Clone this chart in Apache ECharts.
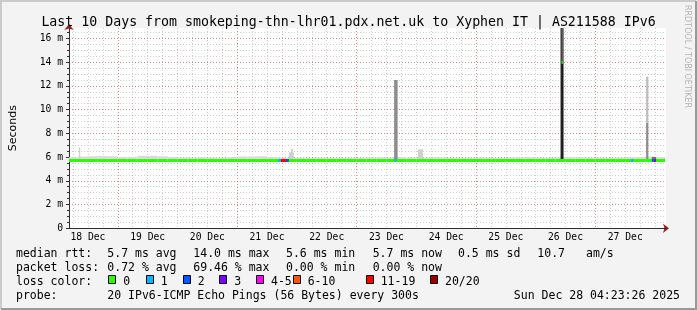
<!DOCTYPE html>
<html><head><meta charset="utf-8">
<script src="https://cdn.jsdelivr.net/npm/echarts@6/dist/echarts.min.js"></script>
<style>html,body{margin:0;padding:0;background:#f3f3f3}#c{width:697px;height:310px}</style>
</head><body><div id="c"></div>
<script>
// ---------- data (time in hours since 18 Dec 00:00) ----------
const titleText = 'Last 10 Days from smokeping-thn-lhr01.pdx.net.uk to Xyphen IT | AS211588 IPv6';
const xMin = 4.39, xMax = 244.39;
const dayLabels = ['18 Dec','19 Dec','20 Dec','21 Dec','22 Dec','23 Dec','24 Dec','25 Dec','26 Dec','27 Dec'];
const dayLabelHours = [12,36,60,84,108,132,156,180,204,228];
const minorGridHours = [6,12,18,24,30,36,42,48,54,60,66,72,78,84,90,96,102,108,114,120,126,132,138,144,150,156,162,168,174,180,186,192,198,204,210,216,222,228,234,240];
const majorGridHours = [24,72,120,168,216];
const yMax = 16.87;
const yTickValues = [0,2,4,6,8,10,12,14,16];
const yTickLabels = ['0','2 m','4 m','6 m','8 m','10 m','12 m','14 m','16 m'];
const yMinorValues = [0.5,1,1.5,2,2.5,3,3.5,4,4.5,5,5.5,6,6.5,7,7.5,8,8.5,9,9.5,10,10.5,11,11.5,12,12.5,13,13.5,14,14.5,15,15.5,16,16.5];

// median rtt (ms) per 4-hour sample starting at hour 4
const sampleStart = 4, sampleStep = 4;
const median = [5.71,5.74,5.74,5.74,5.74,5.70,5.74,5.74,5.74,5.71,
                5.69,5.69,5.69,5.69,5.69,5.69,5.69,5.69,5.69,5.69,
                5.69,5.69,5.69,5.69,5.69,5.69,5.69,5.69,5.69,5.69,
                5.69,5.69,5.69,5.69,5.69,5.69,5.69,5.69,5.69,5.69,
                5.69,5.69,5.69,5.69,5.69,5.69,5.69,5.69,5.69,5.69,
                5.69,5.69,5.69,5.69,5.69,5.69,5.69,5.69,5.69,5.69];
// upper edge of the smoke (ms) per sample
const smokeTop = [5.98,6.04,6.06,6.08,6.06,6.01,6.02,6.10,6.10,6.06,
                  6.01,5.96,5.96,5.98,5.96,5.94,6.01,6.04,6.04,6.06,
                  6.01,5.96,5.94,5.96,5.94,5.96,5.92,5.94,5.96,5.94,
                  5.96,5.98,5.96,6.01,5.96,5.94,5.96,5.98,5.94,5.92,
                  5.94,5.96,5.94,5.92,5.96,5.98,6.01,5.96,5.94,5.98,
                  6.01,5.98,5.96,5.96,5.94,5.96,5.98,6.01,6.04,6.01];
const smokeBottom = 5.60;
// narrow smoke features: [startHour, endHour, lowMs, highMs, densityLevel]
const smokeBars = [
  [8.4, 8.9, 5.7, 6.8, 1],
  [92.8, 94.8, 5.7, 6.4, 1],
  [93.6, 94.4, 5.7, 6.7, 1],
  [135.1, 136.5, 5.7, 12.5, 3],
  [144.7, 146.7, 5.7, 6.65, 1],
  [202.0, 203.2, 5.7, 16.87, 5],
  [202.4, 202.9, 14.0, 16.87, 4],
  [236.4, 237.3, 5.7, 8.9, 3],
  [236.4, 237.3, 8.9, 12.77, 2],
  [238.7, 240.4, 5.7, 6.0, 4]
];
// median excursions: [startHour, endHour, ms]
const medianSpikes = [[202.4, 202.9, 14.0]];
// packet loss (out of 20) where non-zero: [startHour, endHour, lost]
const lossSegments = [
  [88.4, 89.6, 1],
  [89.6, 91.6, 12],
  [91.6, 92.8, 2],
  [135.2, 136.0, 1],
  [230.4, 231.2, 1],
  [238.7, 239.4, 2],
  [239.4, 240.4, 3]
];
const lossBucketLabels = ['0','1','2','3','4-5','6-10','11-19','20/20'];
const lossColors = ['#26ff00','#00b8ff','#0059ff','#7e00ff','#ff00ff','#ff5500','#ff0000','#a00000'];
const medianStats = ['5.7 ms avg','14.0 ms max','5.6 ms min','5.7 ms now','0.5 ms sd','10.7','am/s'];
const lossStats = ['0.72 % avg','69.46 % max','0.00 % min','0.00 % now'];
const probeText = '20 IPv6-ICMP Echo Pings (56 Bytes) every 300s';
const stampText = 'Sun Dec 28 04:23:26 2025';

// ---------- styles ----------
const mono = "'DejaVu Sans Mono', monospace";
const greys = ['#dadada','#d0d0d0','#bdbdbd','#8c8c8c','#707070','#1e1e1e'];
const minorColor = 'rgba(140,140,140,0.42)';
const majorColor = 'rgba(222,48,48,0.42)';
const arrowColor = '#9b1b1b';
const axisColor = '#303030';
function bucket(n){ if(n<=0) return 0; if(n<=3) return n; if(n<=5) return 4; if(n<=10) return 5; if(n<=19) return 6; return 7; }

// ---------- series data built from arrays ----------
const smokeData = [];
for (let i=0;i<smokeTop.length;i++){
  const t = sampleStart + i*sampleStep;
  smokeData.push([t, t+sampleStep, smokeBottom, smokeTop[i], 0]);
}
smokeBars.forEach(b=>smokeData.push(b));
const medData = [];
for (let i=0;i<median.length;i++){
  const t = sampleStart + i*sampleStep;
  medData.push([t, t+sampleStep, median[i], 0]);
}
function medianAt(h){ const i=Math.min(median.length-1, Math.max(0, Math.floor((h-sampleStart)/sampleStep))); return median[i]; }
lossSegments.forEach(s=>medData.push([s[0], s[1], medianAt(s[0]), bucket(s[2])]));
medianSpikes.forEach(s=>medData.push([s[0], s[1], s[2], 0]));

function clipTo(params, r){
  const cs = params.coordSys;
  return echarts.graphic.clipRectByRect(r, {x:cs.x, y:cs.y, width:cs.width, height:cs.height});
}

const chart = echarts.init(document.getElementById('c'), null, {renderer:'canvas', width:697, height:310});
const graphics = [];
// border
graphics.push({type:'polyline', shape:{points:[[1,309],[1,1],[696,1]]}, style:{stroke:'#cbcbcb', lineWidth:2, fill:null}, silent:true});
graphics.push({type:'polyline', shape:{points:[[1,309],[696,309],[696,1]]}, style:{stroke:'#999999', lineWidth:2, fill:null}, silent:true});
// watermark
graphics.push({type:'text', x:687, y:5, rotation:-Math.PI/2, style:{text:'RRDTOOL / TOBI OETIKER', fill:'#b4b4b4', font:"8px 'DejaVu Sans', sans-serif", align:'left', verticalAlign:'middle'}});
function txt(x,y,s,align){ graphics.push({type:'text', x:x, y:y, style:{text:s, fill:'#000', font:"11.5px 'DejaVu Sans Mono', monospace", align:align||'left', verticalAlign:'middle'}}); }
const r1=254.5, r2=268.5, r3=281.7, r4=296;
txt(16,r1,'median rtt:');
[107.3,193.3,286,372.7,458,537.3,586].forEach((x,i)=>txt(x,r1,medianStats[i]));
txt(16,r2,'packet loss:');
[107.3,193.3,286,372.7].forEach((x,i)=>txt(x,r2,lossStats[i]));
txt(16,r3,'loss color:');
[108.3,145.7,182.7,219.3,256,292.7,365.7,430].forEach((x,i)=>{
  graphics.push({type:'rect', shape:{x:Math.round(x)+0.5, y:275.5, width:7, height:8}, style:{fill:lossColors[i], stroke:'#000', lineWidth:1}});
  txt(x+15, r3, lossBucketLabels[i]);
});
txt(16,r4,'probe:');
txt(107.3,r4,probeText);
txt(680,r4,stampText,'right');

const option = {
  backgroundColor:'#f3f3f3',
  animation:false,
  title:{text:titleText, left:'center', top:11, textStyle:{fontFamily:mono, fontSize:13.25, fontWeight:'normal', color:'#000'}},
  grid:{left:66, top:28, width:600, height:200.3, show:true, backgroundColor:'#ffffff', borderWidth:0},
  xAxis:[
    {type:'value', position:'bottom', min:xMin, max:xMax, z:3,
     axisLine:{show:true, lineStyle:{color:axisColor, width:1}},
     axisTick:{show:false, customValues:dayLabelHours},
     axisLabel:{customValues:dayLabelHours, formatter:v=>{const i=dayLabelHours.indexOf(v); return i>=0?dayLabels[i]:'';}, fontFamily:mono, fontSize:9.7, color:'#000', margin:4},
     splitLine:{show:false}},
    {type:'value', position:'bottom', min:xMin, max:xMax, z:0,
     axisLine:{show:false}, axisLabel:{show:false},
     axisTick:{show:false, customValues:minorGridHours},
     splitLine:{show:true, lineStyle:{color:minorColor, type:[1,2], width:1}}},
    {type:'value', position:'bottom', min:xMin, max:xMax, z:1,
     axisLine:{show:true, symbol:['none','arrow'], symbolSize:[7,6], symbolOffset:[0,3], lineStyle:{color:arrowColor, width:1}},
     axisLabel:{show:false},
     axisTick:{show:false, customValues:majorGridHours},
     splitLine:{show:true, lineStyle:{color:majorColor, type:[1,2], width:1}}}
  ],
  yAxis:[
    {type:'value', position:'left', min:0, max:yMax, z:3,
     name:'Seconds', nameLocation:'middle', nameGap:50, nameRotate:90,
     nameTextStyle:{fontFamily:"'DejaVu Sans', sans-serif", fontSize:11, color:'#000'},
     axisLine:{show:true, lineStyle:{color:axisColor, width:1}},
     axisTick:{show:true, length:3, customValues:yTickValues, lineStyle:{color:axisColor}},
     axisLabel:{customValues:yTickValues, fontFamily:mono, fontSize:9.7, color:'#000', margin:6,
       formatter:v=>{const i=yTickValues.indexOf(v); return i>=0?yTickLabels[i]:'';}},
     splitLine:{show:true, lineStyle:{color:majorColor, type:[1,2], width:1}}},
    {type:'value', position:'left', min:0, max:yMax, z:1,
     axisLine:{show:true, symbol:['none','arrow'], symbolSize:[7,6], symbolOffset:[0,4], lineStyle:{color:arrowColor, width:1}},
     axisTick:{show:true, length:2, customValues:yMinorValues, lineStyle:{color:axisColor}},
     axisLabel:{show:false},
     splitLine:{show:true, lineStyle:{color:minorColor, type:[1,2], width:1}}}
  ],
  series:[
    {type:'custom', name:'smoke', xAxisIndex:0, yAxisIndex:0, z:5, clip:true,
     encode:{x:[0,1], y:[2,3]}, data:smokeData,
     renderItem:(params, api)=>{
       const p0=api.coord([api.value(0), api.value(3)]), p1=api.coord([api.value(1), api.value(2)]);
       const r=clipTo(params,{x:p0[0], y:p0[1], width:Math.max(1,p1[0]-p0[0]), height:p1[1]-p0[1]});
       return r && {type:'rect', shape:r, style:{fill:greys[api.value(4)]}};
     }},
    {type:'custom', name:'median', xAxisIndex:0, yAxisIndex:0, z:6, clip:true,
     encode:{x:[0,1], y:2}, data:medData,
     renderItem:(params, api)=>{
       const p0=api.coord([api.value(0), api.value(2)]), p1=api.coord([api.value(1), api.value(2)]);
       const r=clipTo(params,{x:p0[0], y:Math.round(p0[1]-1.5), width:Math.max(1,p1[0]-p0[0]), height:3});
       return r && {type:'rect', shape:r, style:{fill:lossColors[api.value(3)]}};
     }}
  ],
  graphic:graphics
};
chart.setOption(option);
</script></body></html>
